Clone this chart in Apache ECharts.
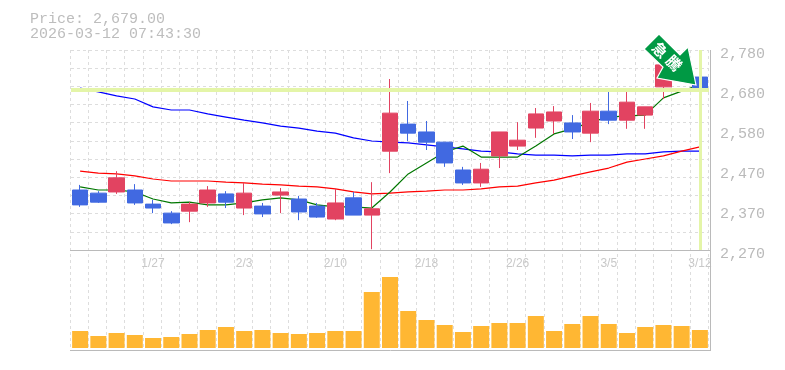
<!DOCTYPE html>
<html>
<head>
<meta charset="utf-8">
<style>html,body{margin:0;padding:0;background:#fff}#c{width:785px;height:370px}</style>
<script src="https://cdn.jsdelivr.net/npm/echarts@6/dist/echarts.min.js"></script>
</head>
<body>
<div id="c"></div>
<script>
const categories = ['1/21','1/22','1/23','1/26','1/27','1/28','1/29','1/30','2/2','2/3','2/4','2/5','2/6','2/9','2/10','2/12','2/13','2/16','2/17','2/18','2/19','2/20','2/24','2/25','2/26','2/27','3/2','3/3','3/4','3/5','3/6','3/9','3/10','3/11','3/12'];
// [open, close, low, high]
const candles = [
[2423,2385,2380,2436],[2415,2392,2390,2420],[2418,2454,2413,2471],[2423,2390,2385,2438],[2387,2377,2364,2398],
[2364,2339,2336,2369],[2369,2387,2341,2392],[2390,2423,2380,2433],[2413,2392,2377,2420],[2377,2415,2359,2441],
[2382,2362,2354,2390],[2410,2418,2364,2428],[2400,2367,2346,2408],[2382,2354,2352,2390],[2349,2390,2346,2426],
[2403,2359,2359,2418],[2359,2375,2272,2443],[2522,2619,2466,2706],[2591,2568,2548,2650],[2571,2545,2525,2599],
[2545,2492,2482,2545],[2474,2441,2436,2482],[2441,2476,2431,2492],[2510,2571,2479,2571],[2535,2550,2525,2596],
[2581,2617,2556,2632],[2599,2622,2566,2637],[2594,2571,2553,2614],[2568,2624,2545,2645],[2624,2601,2591,2673],
[2601,2647,2579,2675],[2614,2635,2579,2635],[2686,2742,2655,2760],[2712,2745,2705,2755],[2711,2679,2658,2724]
];
const maShort = [2431,2423,2423,2418,2400,2390,2392,2385,2385,2390,2398,2403,2398,2385,2380,2380,2377,2418,2464,2492,2520,2535,2507,2507,2507,2535,2566,2579,2596,2609,2612,2614,2658,2675,2691];
const maMid = [2683,2673,2663,2655,2635,2627,2627,2617,2609,2601,2594,2586,2581,2573,2568,2556,2548,2545,2543,2538,2533,2528,2522,2520,2515,2512,2512,2510,2512,2512,2515,2515,2520,2522,2522];
const maLong = [2471,2466,2464,2459,2451,2446,2446,2446,2443,2441,2438,2436,2433,2431,2426,2418,2413,2415,2418,2420,2423,2423,2426,2431,2433,2441,2448,2459,2469,2479,2494,2502,2510,2522,2533];
const volumes = [17,12,15,13,10,11,14,18,21,17,18,15,14,15,17,17,56,71,37,28,23,16,22,25,25,32,17,24,32,24,15,21,23,22,18];
const priceLabels = [2270,2372,2474,2576,2678,2780];
const priceGrid = [2270,2316.36,2362.73,2409.09,2455.45,2501.82,2548.18,2594.55,2640.91,2687.27,2733.64,2780];
const lastPrice = 2679;
const titleLines = ['Price: 2,679.00','2026-03-12 07:43:30'];
const badge = ['急','騰'];

const GREY = '#bababa', DASH = '#dddddd', UP = '#e24361', DOWN = '#4169e1', HILITE = '#e4f5a8';
const chart = echarts.init(document.getElementById('c'), null, {renderer:'canvas'});
const line = (data, color, width, z) => ({type:'line', data, symbol:'none', smooth:false, z, xAxisIndex:0, yAxisIndex:0, silent:true, animation:false, lineStyle:{color, width}});
chart.setOption({
  animation:false,
  backgroundColor:'#fff',
  title:{text:titleLines.join('\n'), left:30, top:12, padding:0, textStyle:{fontFamily:'Liberation Mono', fontSize:15, fontWeight:'normal', color:'#bdbdbd', lineHeight:15}},
  grid:[{left:71, top:50, width:638, height:200},{left:71, top:250, width:638, height:100},{left:70, top:50, width:638, height:300}],
  xAxis:[
    {type:'category', gridIndex:0, data:categories, boundaryGap:true, axisLine:{show:false}, axisTick:{show:false}, splitLine:{show:false},
     axisLabel:{interval:(i)=>i%5===4, margin:8, color:'#c8c8c8', fontFamily:'Liberation Sans', fontSize:12, hideOverlap:false}},
    {type:'category', gridIndex:1, data:categories, boundaryGap:true, axisLine:{show:false}, axisTick:{show:false}, axisLabel:{show:false}, splitLine:{show:false}},
    {type:'category', gridIndex:2, data:categories, boundaryGap:true, axisLine:{show:false}, axisTick:{show:false}, axisLabel:{show:false},
     splitLine:{show:true, interval:0, lineStyle:{color:DASH, type:[3,3], width:1}}}
  ],
  yAxis:[
    {type:'value', gridIndex:0, position:'right', min:2270, max:2780, axisLine:{show:false},
     axisTick:{show:false, customValues:priceGrid},
     splitLine:{show:true, lineStyle:{color:DASH, type:[3,3], width:1}},
     axisLabel:{customValues:priceLabels, margin:11, color:GREY, fontFamily:'Liberation Mono', fontSize:15, verticalAlign:'top', lineHeight:9,
       formatter:(v)=>{const r=Math.round(v/10)*10; return String(r).replace(/\B(?=(\d{3})+$)/g,',');}}},
    {type:'value', gridIndex:1, min:-2, max:98, show:false, splitLine:{show:false}},
    {type:'value', gridIndex:2, min:0, max:1, show:false, splitLine:{show:false}}
  ],
  series:[
    {type:'line', data:[], xAxisIndex:0, yAxisIndex:0, z:1, silent:true,
     markLine:{silent:true, symbol:'none', label:{show:false}, animation:false, data:[
       {yAxis:lastPrice, lineStyle:{color:HILITE, width:4, type:'solid'}},
       {xAxis:categories[categories.length-1], lineStyle:{color:HILITE, width:3, type:'solid'}}
     ]}},
    line(maMid,'#0000ff',1.2,2),
    line(maLong,'#ff0000',1.2,2),
    line(maShort,'#007700',1.2,2),
    {type:'candlestick', data:candles, xAxisIndex:0, yAxisIndex:0, z:3, barWidth:16, silent:true,
     itemStyle:{color:UP, color0:DOWN, borderColor:UP, borderColor0:DOWN, borderWidth:1}},
    {type:'bar', data:volumes, xAxisIndex:1, yAxisIndex:1, barWidth:16, z:3, silent:true, itemStyle:{color:'#ffb733'}}
  ],
  graphic:[
    {type:'line', silent:true, z:5, shape:{x1:70,y1:250.5,x2:710,y2:250.5}, style:{stroke:GREY, lineWidth:1}},
    {type:'line', silent:true, z:5, shape:{x1:70,y1:350.5,x2:711,y2:350.5}, style:{stroke:GREY, lineWidth:1}},
    {type:'line', silent:true, z:5, shape:{x1:710.5,y1:50,x2:710.5,y2:350}, style:{stroke:GREY, lineWidth:1}},
    {type:'polygon', silent:true, z:20, shape:{points:[[659,34],[644,49],[663,67],[657,78],[696,85],[688,47],[680,55]]}, style:{fill:'#009944', stroke:'#fff', lineWidth:1.2}},
    {type:'text', silent:true, z:21, x:660, y:50, rotation:-Math.PI/4, style:{text:badge[0], fill:'#fff', font:'bold 15px "Noto Sans CJK JP"', align:'center', verticalAlign:'middle'}},
    {type:'text', silent:true, z:21, x:674, y:63, rotation:-Math.PI/4, style:{text:badge[1], fill:'#fff', font:'bold 15px "Noto Sans CJK JP"', align:'center', verticalAlign:'middle'}}
  ]
});
</script>
</body>
</html>
